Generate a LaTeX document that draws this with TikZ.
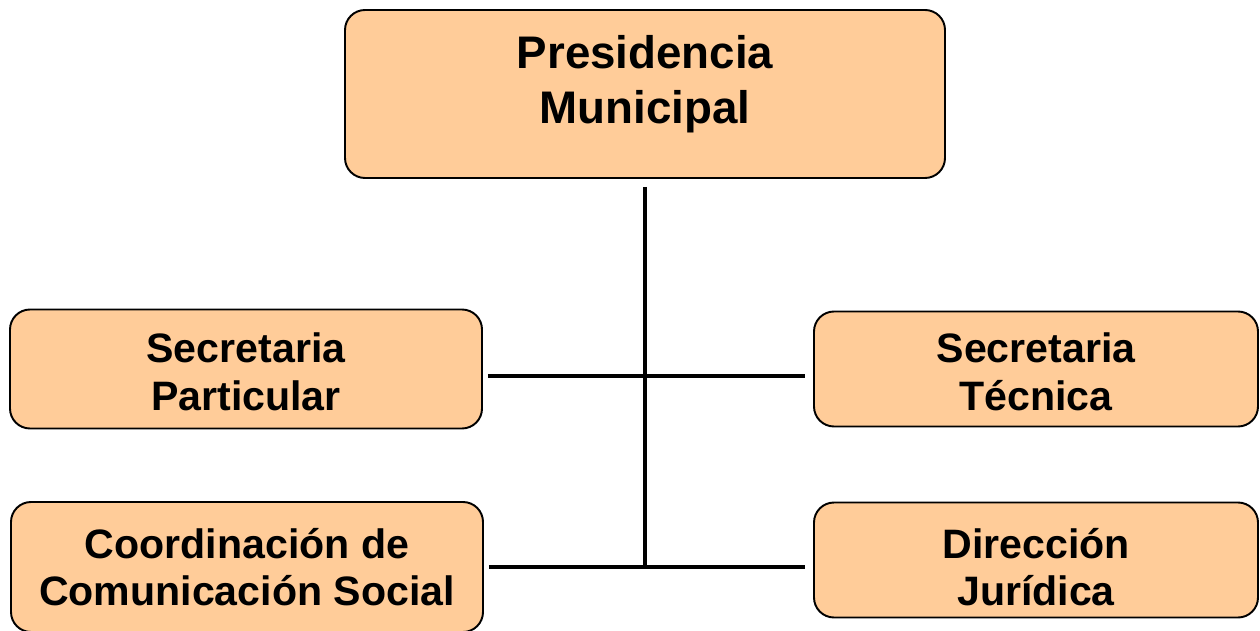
\documentclass[tikz,border=0pt]{standalone}
\usepackage{fontspec}
\setmainfont{Liberation Sans}
\definecolor{peach}{HTML}{FFCC99}

\begin{document}
\begin{tikzpicture}[x=0.02cm,y=-0.02cm]
  %
  % Définitions
  %
  \tikzset{
    unit/.style={draw=black, line width=1.1pt, fill=peach, rounded corners=0.4cm,
      inner sep=0pt, minimum width=\boxw*0.02cm, minimum height=115*0.02cm},
    unittext/.style={font=\bfseries\fontsize{23.4}{27}\selectfont, align=center, inner sep=0pt},
    wire/.style={line width=2pt, black},
  }
  \useasboundingbox (0,0) rectangle (1260,631);
  \clip (0,0) rectangle (1260,631);
  \pgfmathsetmacro{\xl}{246};%
  \pgfmathsetmacro{\xc}{645};%
  \pgfmathsetmacro{\xr}{1036};%
  \pgfmathsetmacro{\ya}{369};%
  \pgfmathsetmacro{\yb}{376};%
  \pgfmathsetmacro{\yc}{567};%
  \pgfmathsetmacro{\boxw}{472};%

  %
  % Dessin
  %
  % Presidencia
  \node[unit, minimum width=600*0.02cm, minimum height=168*0.02cm] (pres) at (\xc,94) {};
  \node[unittext, font=\bfseries\fontsize{26}{31}\selectfont] (presT) at (\xc,84) {Presidencia\\Municipal};

  % Gauche
  \node[unit, minimum height=119*0.02cm] (sp) at (\xl,\ya) {};
  \node[unittext] (spT) at (\xl,372) {Secretaria\\Particular};
  \node[unit, minimum height=130*0.02cm] (cs) at (247,\yc) {};
  \node[unittext] (csT) at (247,\yc) {Coordinación de\\Comunicación Social};

  % Droite
  \pgfmathsetmacro{\boxw}{444};%
  \node[unit] (st) at (\xr,\ya) {};
  \node[unittext] (stT) at (\xr,372) {Secretaria\\Técnica};
  \node[unit] (dj) at (\xr,560) {};
  \node[unittext] (djT) at (\xr,567) {Dirección\\Jurídica};

  % Câbles
  \coordinate (j1) at (\xc,\yb);
  \coordinate (j2) at (\xc,\yc);
  \draw[wire, shorten <=0.16cm] (pres.south) -- (j2);
  \draw[wire, shorten <=0.1cm, shorten >=0.16cm] (sp.east |- j1) -- (st.west |- j1);
  \draw[wire, shorten <=0.1cm, shorten >=0.16cm] (cs.east |- j2) -- (dj.west |- j2);

\end{tikzpicture}
\end{document}
